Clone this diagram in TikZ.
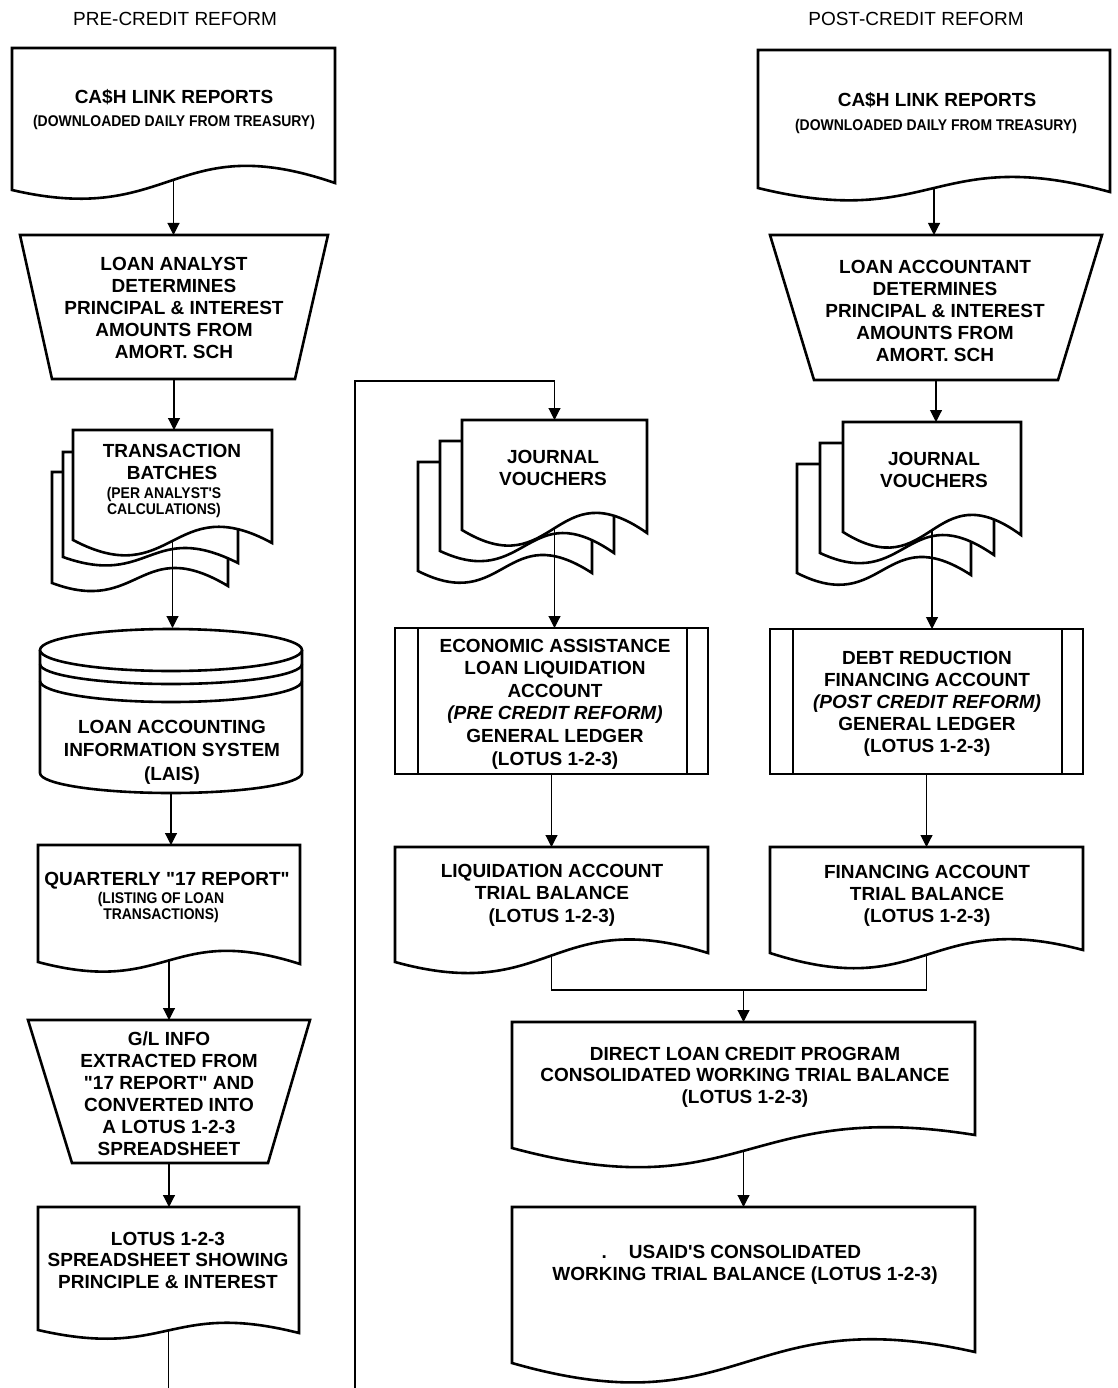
\documentclass[tikz,border=0pt]{standalone}
\usepackage{fontspec}
\setmainfont{Liberation Sans}
\newfontfamily\lsans{Liberation Sans}
\newfontfamily\condfont[FakeStretch=0.9]{Liberation Sans}
\usetikzlibrary{arrows.meta}

\tikzset{
  outline/.style={line width=2.6pt, line join=miter, fill=white},
  conn/.style={line width=1.1pt, -{Triangle[width=12pt,length=12pt]}},
  plainline/.style={line width=1.1pt},
  txt/.style={align=center, inner sep=0pt, anchor=base, font=\lsans\fontsize{19}{22}\selectfont\bfseries},
  smalltxt/.style={align=center, inner sep=0pt, anchor=base, font=\condfont\fontsize{15.5}{16}\selectfont\bfseries},
  head/.style={inner sep=0pt, anchor=base, font=\lsans\fontsize{19}{22}\selectfont},
}

% invisible bounding node: name, x0, y0, x1, y1 (pixel coords, y downwards)
\newcommand\bboxnode[5]{%
  \pgfmathsetmacro\bbw{#4-#2}\pgfmathsetmacro\bbh{#5-#3}%
  \pgfmathsetmacro\bbx{(#2+#4)/2}\pgfmathsetmacro\bby{(#3+#5)/2}%
  \node[inner sep=0pt, outer sep=0pt, minimum width=\bbw pt, minimum height=\bbh pt] (#1) at (\bbx,-\bby) {};}

% document shape: x0, x1, top, yLeft, ctrl1 offset, ctrl2 offset, yRight, name
\newcommand\docshape[8]{%
  \pgfmathsetmacro\dsm{(#1+#2)/2}%
  \pgfmathsetmacro\dsa{#4+(#5)}%
  \pgfmathsetmacro\dsb{#4+(#6)}%
  \draw[outline] (#1,-#3) -- (#1,-#4) .. controls (\dsm,-\dsa) and (\dsm,-\dsb) .. (#2,-#7) coordinate[pos=0.5] (#8w) -- (#2,-#3) -- cycle;
  \bboxnode{#8}{#1}{#3}{#2}{#4}}

% trapezoid (manual operation): name, top x0, top x1, bottom x0, bottom x1, ytop, ybottom
\newcommand\trapshape[7]{%
  \draw[outline] (#2,-#6) -- (#3,-#6) -- (#5,-#7) -- (#4,-#7) -- cycle;
  \bboxnode{#1}{#2}{#6}{#3}{#7}}

% predefined process: name, x0, y0, x1, y1
\newcommand\procshape[5]{%
  \pgfmathsetmacro\pla{#2+23}\pgfmathsetmacro\plb{#4-21}%
  \draw[outline] (#2,-#3) rectangle (#4,-#5);
  \draw[line width=2.6pt] (\pla,-#3) -- (\pla,-#5) (\plb,-#3) -- (\plb,-#5);
  \bboxnode{#1}{#2}{#3}{#4}{#5}}

\begin{document}
\begin{tikzpicture}[x=1pt,y=1pt]
\useasboundingbox (0,0) rectangle (1117,-1388);

% ---------------- headers
\node[head] (h1) at (175,-26) {PRE-CREDIT REFORM};
\node[head] (h2) at (916,-26) {POST-CREDIT REFORM};

% ---------------- left column shapes
\docshape{12}{335}{48}{190}{37.7}{-62.5}{183}{d1}
\trapshape{t1}{20}{328}{52}{295}{235}{379}
\docshape{52}{228}{472}{583}{33}{-49.6}{586}{m1c}
\docshape{63}{238}{452}{557}{31.3}{-37.8}{563}{m1b}
\docshape{73}{272}{430}{540}{52.6}{-51.3}{543}{m1}
% cylinder
\draw[outline] (40,-650) -- (40,-773) arc[start angle=180,end angle=360,x radius=131,y radius=20] -- (302,-650);
\draw[outline] (171,-650) ellipse [x radius=131, y radius=21];
\draw[line width=2.6pt] (40,-664) arc[start angle=180,end angle=360,x radius=131,y radius=20];
\draw[line width=2.6pt] (40,-681) arc[start angle=180,end angle=360,x radius=131,y radius=21];
\bboxnode{c1}{40}{628}{302}{793}
\docshape{38}{300}{845}{962}{35}{-40}{964}{q1}
\trapshape{g1}{28}{310}{72}{268}{1020}{1163}
\docshape{38}{299}{1207}{1330}{30}{-30}{1333}{l1}

% ---------------- middle column shapes
\docshape{418}{592}{462}{571}{44.2}{-54.6}{573}{m2c}
\docshape{440}{614}{441}{551}{40.7}{-58.2}{553}{m2b}
\docshape{462}{647}{420}{530}{56.1}{-62}{533}{m2}
\procshape{e1}{395}{628}{708}{774}
\docshape{395}{708}{847}{962}{43.2}{-57.5}{953}{lq}
\docshape{512}{975}{1022}{1148}{62.3}{-50.4}{1135}{dl}
\docshape{512}{975}{1207}{1363}{66.5}{-63.3}{1352}{us}

% ---------------- right column shapes
\docshape{758}{1110}{50}{188}{43.1}{-44.4}{192}{d2}
\trapshape{t2}{770}{1102}{814}{1058}{235}{380}
\docshape{797}{971}{464}{573}{44.2}{-54.6}{575}{m3c}
\docshape{820}{994}{443}{553}{40.7}{-58.2}{555}{m3b}
\docshape{843}{1021}{422}{532}{56.1}{-62}{535}{m3}
\procshape{dr}{770}{629}{1083}{774}
\docshape{770}{1083}{847}{953}{50.5}{-44.6}{950}{fa}

% ---------------- texts (multi-line nodes are placed by their last baseline)
\node[txt] (d1txt) at (174,-104) {CA\$H LINK REPORTS};
\node[smalltxt] (d1sub) at (174,-127) {(DOWNLOADED DAILY FROM TREASURY)};
\node[txt] (t1txt) at (174,-358) {LOAN ANALYST\\DETERMINES\\PRINCIPAL \& INTEREST\\AMOUNTS FROM\\AMORT. SCH};
\node[txt] (m1txt) at (172,-479) {TRANSACTION\\BATCHES};
\node[smalltxt] (m1sub) at (164,-514) {(PER ANALYST'S\\CALCULATIONS)};
\node[txt, font=\lsans\fontsize{19}{23.5}\selectfont\bfseries] (c1txt) at (172,-780) {LOAN ACCOUNTING\\INFORMATION SYSTEM\\(LAIS)};
\node[txt] (q1txt) at (167,-885) {QUARTERLY "17 REPORT"};
\node[smalltxt] (q1sub) at (161,-919) {(LISTING OF LOAN\\TRANSACTIONS)};
\node[txt] (g1txt) at (169,-1155) {G/L INFO\\EXTRACTED FROM\\"17 REPORT" AND\\CONVERTED INTO\\A LOTUS 1-2-3\\SPREADSHEET};
\node[txt, font=\lsans\fontsize{19}{21.5}\selectfont\bfseries] (l1txt) at (168,-1288) {LOTUS 1-2-3\\SPREADSHEET SHOWING\\PRINCIPLE \& INTEREST};

\node[txt] (m2txt) at (553,-485) {JOURNAL\\VOUCHERS};
\node[txt, font=\lsans\fontsize{19}{22.6}\selectfont\bfseries] (e1txt) at (555,-765) {ECONOMIC ASSISTANCE\\LOAN LIQUIDATION\\ACCOUNT\\{\itshape (PRE CREDIT REFORM)}\\GENERAL LEDGER\\(LOTUS 1-2-3)};
\node[txt, font=\lsans\fontsize{19}{22.5}\selectfont\bfseries] (lqtxt) at (552,-922) {LIQUIDATION ACCOUNT\\TRIAL BALANCE\\(LOTUS 1-2-3)};
\node[txt, font=\lsans\fontsize{19}{21.5}\selectfont\bfseries] (dltxt) at (745,-1103) {DIRECT LOAN CREDIT PROGRAM\\CONSOLIDATED WORKING TRIAL BALANCE\\(LOTUS 1-2-3)};
\node[txt] (ustxt) at (745,-1280) {\llap{.\hspace{22pt}}USAID'S CONSOLIDATED\\WORKING TRIAL BALANCE (LOTUS 1-2-3)};

\node[txt] (d2txt) at (937,-107) {CA\$H LINK REPORTS};
\node[smalltxt] (d2sub) at (936,-131) {(DOWNLOADED DAILY FROM TREASURY)};
\node[txt] (t2txt) at (935,-361) {LOAN ACCOUNTANT\\DETERMINES\\PRINCIPAL \& INTEREST\\AMOUNTS FROM\\AMORT. SCH};
\node[txt] (m3txt) at (934,-487) {JOURNAL\\VOUCHERS};
\node[txt, font=\lsans\fontsize{19}{21.8}\selectfont\bfseries] (drtxt) at (927,-752) {DEBT REDUCTION\\FINANCING ACCOUNT\\{\itshape (POST CREDIT REFORM)}\\GENERAL LEDGER\\(LOTUS 1-2-3)};
\node[txt] (fatxt) at (927,-922) {FINANCING ACCOUNT\\TRIAL BALANCE\\(LOTUS 1-2-3)};

% ---------------- connectors
\coordinate (off1) at (168.5,-1388);
\coordinate (off2) at (355,-1388);
\coordinate (turn2) at (355,-381);
\coordinate (mj) at (743.5,-990);

\draw[conn] (d1w) -- (d1w |- t1.north);
\draw[conn] (t1.south) -- (t1.south |- m1.north);
\draw[conn] (m1w) -- (m1w |- c1.north);
\draw[conn] (c1.south) -- (c1.south |- q1.north);
\draw[conn] (q1w) -- (q1w |- g1.north);
\draw[conn] (g1.south) -- (g1.south |- l1.north);
\draw[plainline] (l1w) -- (l1w |- off1);

\draw[conn] (off2) -- (turn2) -| (m2.north);
\draw[conn] (m2w) -- (m2w |- e1.north);
\draw[conn] (e1.south) -- (e1.south |- lq.north);
\draw[plainline] (lqw) -- (lqw |- mj) -- (faw |- mj) -- (faw);
\draw[conn] (mj) -- (mj |- dl.north);
\draw[conn] (dlw) -- (dlw |- us.north);

\draw[conn] (d2w) -- (d2w |- t2.north);
\draw[conn] (t2.south) -- (t2.south |- m3.north);
\draw[conn] (m3w) -- (m3w |- dr.north);
\draw[conn] (dr.south) -- (dr.south |- fa.north);
\end{tikzpicture}
\end{document}
